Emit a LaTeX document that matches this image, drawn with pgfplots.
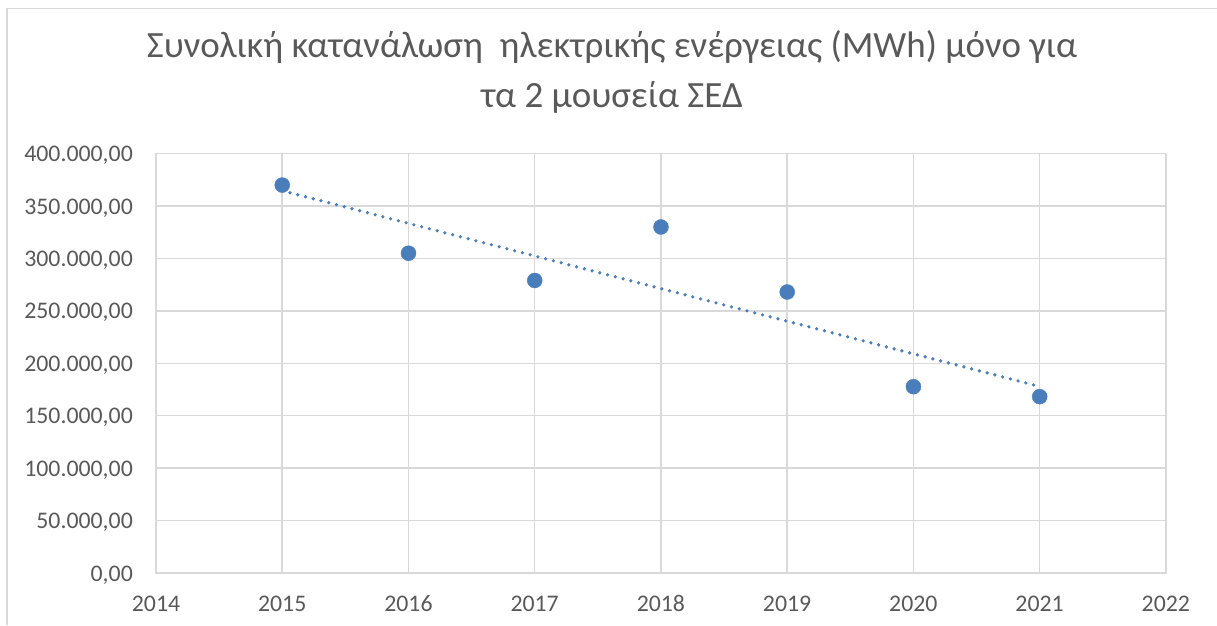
\documentclass[border=0pt]{standalone}
\usepackage{fontspec}
\setmainfont{Carlito}
\usepackage{pgfplots}
\pgfplotsset{compat=1.18}
\definecolor{cpt}{HTML}{4A7EBB}
\definecolor{cgrid}{HTML}{D9D9D9}
\definecolor{ctext}{HTML}{595959}

\begin{document}
\begin{tikzpicture}[x=1pt,y=1pt]
\useasboundingbox (0,0) rectangle (1217,625);
% chart frame (cropped at right and bottom)
\draw[cgrid, line width=1.5pt] (7,0) -- (7,616.5) -- (1217,616.5);
\begin{axis}[
  at={(156pt,52pt)}, anchor=south west,
  scale only axis,
  width=1010pt, height=419.4pt,
  xmin=2014, xmax=2022,
  ymin=0, ymax=400000,
  xtick={2014,...,2022},
  xticklabels={2014,2015,2016,2017,2018,2019,2020,2021,2022},
  ytick={0,50000,...,400000},
  scaled y ticks=false,
  y tick label style={/pgf/number format/fixed, /pgf/number format/fixed zerofill,
    /pgf/number format/precision=2, /pgf/number format/use comma,
    /pgf/number format/1000 sep={.}, /pgf/number format/assume math mode=true},
  major tick length=0pt,
  grid=major,
  grid style={cgrid, line width=1.5pt},
  axis line style={cgrid, line width=1.5pt},
  tick label style={font=\fontsize{23.8}{28}\selectfont, text=ctext, inner sep=0pt},
  xticklabel style={anchor=base, yshift=-38pt},
  yticklabel style={anchor=base east, xshift=-23pt, yshift=-8pt},
  title={Συνολική κατανάλωση\ \ ηλεκτρικής ενέργειας (MWh) μόνο για\\τα 2 μουσεία ΣΕΔ},
  title style={at={(0.4515,1.18)}, anchor=center, align=center,
    font=\fontsize{37}{50}\selectfont, text=ctext, inner sep=0pt},
  clip=false,
]
% linear trendline (endpoints of the fitted line)
\addplot[cpt, line width=3.6pt, line cap=round, dash pattern=on 0pt off 8pt]
  coordinates {(2015,364600) (2021,177900)};
\addplot[only marks, mark=*, mark size=7.5pt, mark options={fill=cpt, draw=cpt}]
  coordinates {
  (2015,370000) (2016,305000) (2017,279000) (2018,330000)
  (2019,268000) (2020,177700) (2021,168200)
};
\end{axis}
\end{tikzpicture}
\end{document}
